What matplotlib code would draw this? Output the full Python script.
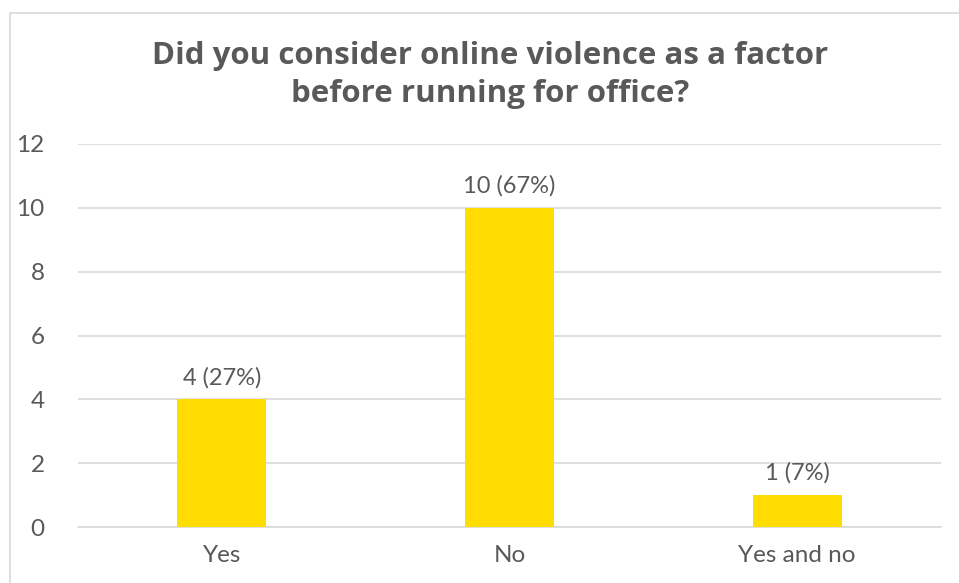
import matplotlib.pyplot as plt
from matplotlib.patches import Rectangle

plt.rcParams['font.family'] = ['Lato', 'DejaVu Sans']

categories = ['Yes', 'No', 'Yes and no']
counts = [4, 10, 1]
percents = [27, 67, 7]

text_grey = '#595959'
grid_grey = '#D9D9D9'
bar_yellow = '#FFDD00'

fig = plt.figure(figsize=(9.59, 5.83), dpi=100)
# light frame around the chart area
fig.patches.append(Rectangle((10/959, -0.1), 1.2, 1 - 13/583 + 0.1, transform=fig.transFigure,
                             facecolor='none', edgecolor=grid_grey, linewidth=1.2))

ax = fig.add_axes([78/959, 56/583, 863/959, 383/583])
x = range(len(categories))
bars = ax.bar(x, counts, width=0.31, color=bar_yellow, zorder=3)

for b, c, p in zip(bars, counts, percents):
    ax.annotate('{} ({}%)'.format(c, p), (b.get_x() + b.get_width()/2, c),
                xytext=(0, 8), textcoords='offset points', ha='center', va='bottom',
                fontsize=17, color=text_grey)

ax.set_xlim(-0.5, 2.5)
ax.set_ylim(0, 12)
ax.set_yticks(range(0, 13, 2))
ax.set_xticks(list(x))
ax.set_xticklabels(categories)
ax.tick_params(axis='both', length=0, labelsize=17.5, labelcolor=text_grey)
ax.tick_params(axis='y', pad=24)
ax.tick_params(axis='x', pad=13)
ax.yaxis.grid(True, color=grid_grey, linewidth=1.2, zorder=0)
ax.set_axisbelow(True)
for s in ['top', 'right', 'left']:
    ax.spines[s].set_visible(False)
ax.spines['bottom'].set_color(grid_grey)
ax.spines['bottom'].set_linewidth(1.2)

fig.text(490/959, 1 - 75/583, 'Did you consider online violence as a factor\nbefore running for office?',
         ha='center', va='center', fontsize=22.5, fontweight='bold', color=text_grey,
         linespacing=1.32, family=['Open Sans', 'DejaVu Sans'])

plt.savefig('out.png', dpi=100)
